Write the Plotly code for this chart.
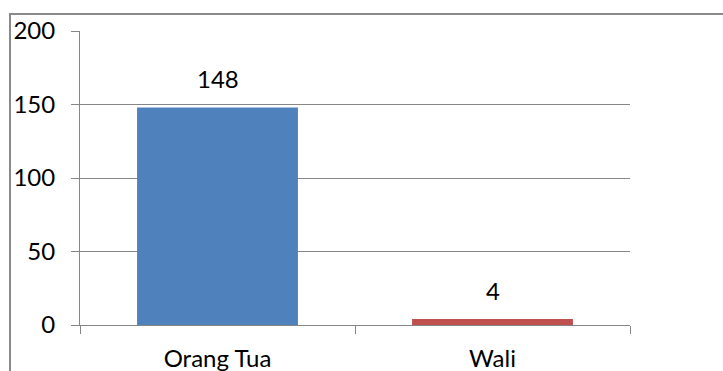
import plotly.graph_objects as go

# Jumlah responden per kategori
categories = ["Orang Tua", "Wali"]
values = [148, 4]
bar_colors = ["#4F81BD", "#C0504D"]

y_ticks = [0, 50, 100, 150, 200]

W, H = 723, 371
L, R, T, B = 80, 93, 31, 46
plot_w = W - L - R
plot_h = H - T - B

axis_gray = "#868686"
font_family = "Lato, Calibri, Carlito, sans-serif"
font_size = 24

fig = go.Figure()
fig.add_trace(go.Bar(
    x=categories,
    y=values,
    marker=dict(color=bar_colors, line=dict(width=0)),
    showlegend=False,
    hoverinfo="x+y",
))

# Value labels above each bar
for cat, val in zip(categories, values):
    fig.add_annotation(
        x=cat, y=val, text=str(val), showarrow=False,
        yanchor="bottom", yshift=12,
        font=dict(family=font_family, size=font_size, color="#000000"),
    )

# Outer chart border (extends past right and bottom edges)
def px_to_paper_x(px):
    return (px - L) / plot_w

def px_to_paper_y(py):
    return (H - B - py) / plot_h

fig.add_shape(
    type="rect", xref="paper", yref="paper",
    x0=px_to_paper_x(10), x1=px_to_paper_x(W + 20),
    y0=px_to_paper_y(H + 20), y1=px_to_paper_y(14),
    line=dict(color="#8a8a8a", width=2),
    fillcolor="rgba(0,0,0,0)", layer="below",
)

fig.update_layout(
    width=W, height=H,
    margin=dict(l=L, r=R, t=T, b=B, pad=0, autoexpand=False),
    paper_bgcolor="#ffffff",
    plot_bgcolor="#ffffff",
    bargap=0.415,
    font=dict(family=font_family, size=font_size, color="#000000"),
    xaxis=dict(
        type="category", automargin=False,
        showline=True, linecolor=axis_gray, linewidth=1,
        ticks="outside", tickson="boundaries", ticklen=8,
        tickcolor=axis_gray, tickwidth=1,
        showgrid=False, zeroline=False,
        ticklabelstandoff=12,
        tickfont=dict(family=font_family, size=font_size, color="#000000"),
    ),
    yaxis=dict(
        range=[0, 200], tickvals=y_ticks, automargin=False,
        showline=True, linecolor=axis_gray, linewidth=1,
        ticks="outside", ticklen=8, tickcolor=axis_gray, tickwidth=1,
        showgrid=True, gridcolor=axis_gray, gridwidth=1,
        zeroline=False,
        ticklabelstandoff=11,
        tickfont=dict(family=font_family, size=font_size, color="#000000"),
    ),
)

fig.write_html("out.html")
